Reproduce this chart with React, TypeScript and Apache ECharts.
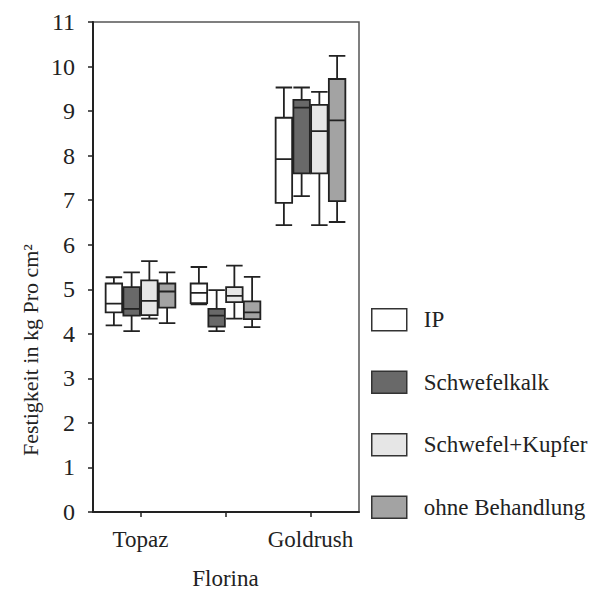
import React, { useEffect, useRef } from "react";
import * as echarts from "echarts";

const categories = ["Topaz", "Florina", "Goldrush"];
const seriesNames = ["IP", "Schwefelkalk", "Schwefel+Kupfer", "ohne Behandlung"];
const seriesColors = ["#ffffff", "#696969", "#e6e6e6", "#a3a3a3"];
// [min, Q1, median, Q3, max] per category
const ipData = [
  [4.19, 4.48, 4.68, 5.13, 5.27],
  [4.66, 4.69, 4.92, 5.13, 5.5],
  [6.44, 6.94, 7.92, 8.85, 9.53],
];
const kalkData = [
  [4.06, 4.41, 4.56, 5.05, 5.38],
  [4.06, 4.16, 4.41, 4.56, 4.98],
  [7.09, 7.6, 9.08, 9.25, 9.53],
];
const kupferData = [
  [4.34, 4.42, 4.74, 5.2, 5.63],
  [4.34, 4.71, 4.85, 5.05, 5.53],
  [6.44, 7.6, 8.55, 9.14, 9.43],
];
const ohneData = [
  [4.24, 4.59, 4.95, 5.13, 5.38],
  [4.15, 4.33, 4.48, 4.73, 5.28],
  [6.51, 6.98, 8.79, 9.72, 10.24],
];
const allData = [ipData, kalkData, kupferData, ohneData];
const yMin = 0;
const yMax = 11;
const yInterval = 1;

const FONT = "'Liberation Serif', 'DejaVu Serif', serif";

export default function App() {
  const ref = useRef<HTMLDivElement>(null);
  useEffect(() => {
    if (!ref.current) return;
    const chart = echarts.init(ref.current, undefined, { renderer: "svg" });
    const option: any = {
      animation: false,
      backgroundColor: "#ffffff",
      textStyle: { fontFamily: FONT },
      grid: [
        { left: 93, top: 22, width: 266, height: 490, show: true, borderColor: "#555", borderWidth: 1.5, backgroundColor: "transparent", containLabel: false, outerBoundsMode: "none" },
        { left: 98, top: 22, width: 255, height: 490, containLabel: false, outerBoundsMode: "none" },
      ],
      xAxis: [
        {
          gridIndex: 0,
          type: "value",
          min: 0,
          max: 1,
          axisLine: { show: true, lineStyle: { color: "#222", width: 2 } },
          axisTick: { show: false },
          axisLabel: { show: false },
          splitLine: { show: false },
        },
        {
          gridIndex: 1,
          type: "category",
          data: categories,
          axisLine: { show: false },
          axisTick: { show: true, alignWithLabel: true, length: 5, lineStyle: { color: "#222", width: 1.5 }, interval: 0 },
          axisLabel: {
            interval: 0,
            hideOverlap: false,
            margin: 8,
            fontSize: 23,
            lineHeight: 39,
            color: "#222",
            fontFamily: FONT,
            formatter: (v: string, i: number) => (i === 1 ? "\n" + v : v),
          },
          splitLine: { show: false },
        },
      ],
      yAxis: [
        {
          gridIndex: 0,
          type: "value",
          min: yMin,
          max: yMax,
          interval: yInterval,
          axisLine: { show: true, lineStyle: { color: "#222", width: 2 } },
          axisTick: { show: true, length: 5, lineStyle: { color: "#222", width: 1.5 } },
          axisLabel: { margin: 18, fontSize: 24, color: "#222", fontFamily: FONT },
          splitLine: { show: false },
        },
        {
          gridIndex: 1,
          type: "value",
          min: yMin,
          max: yMax,
          show: false,
        },
      ],
      legend: {
        orient: "vertical",
        left: 371,
        top: 308,
        padding: 0,
        itemWidth: 35,
        itemHeight: 22,
        itemGap: 39,
        icon: "rect",
        textStyle: { fontSize: 23, color: "#222", fontFamily: FONT, padding: [0, 0, 0, 12] },
        data: seriesNames.map((n, i) => ({
          name: n,
          itemStyle: { color: seriesColors[i], borderColor: "#333", borderWidth: 1.5 },
        })),
      },
      graphic: [
        {
          type: "text",
          x: 30,
          y: 350,
          rotation: Math.PI / 2,
          style: {
            text: "Festigkeit in kg Pro cm²",
            fontSize: 22,
            fontFamily: FONT,
            fill: "#222",
            align: "center",
            verticalAlign: "middle",
          },
        },
      ],
      series: seriesNames.map((n, i) => ({
        name: n,
        type: "boxplot",
        xAxisIndex: 1,
        yAxisIndex: 1,
        boxWidth: [16.5, 16.5],
        data: allData[i],
        itemStyle: { color: seriesColors[i], borderColor: "#222", borderWidth: 1.8 },
      })),
    };
    chart.setOption(option);
    return () => chart.dispose();
  }, []);
  return <div ref={ref} style={{ position: "fixed", left: 0, top: 0, width: 598, height: 590 }} />;
}
